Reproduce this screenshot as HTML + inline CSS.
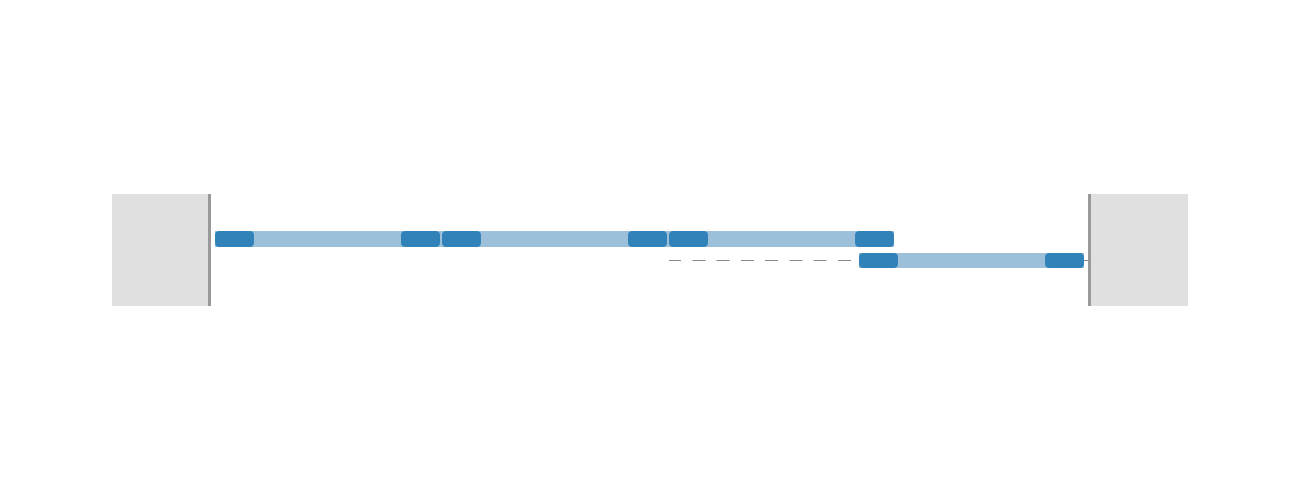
<!DOCTYPE html>
<html><head><style>
body{margin:0;width:1300px;height:500px;background:#fff;position:relative;overflow:hidden}
div{position:absolute}
.box{background:#e0e0e0;top:194px;height:112px}
.vl{background:#999;top:194px;height:112px;width:3px}
.lt{background:#9cc0da}
.dk{background:#3282ba;border-radius:4px}
</style></head><body>
<div class="box" style="left:112px;width:97px"></div>
<div class="vl" style="left:208px"></div>
<div class="box" style="left:1090px;width:98px"></div>
<div class="vl" style="left:1088px"></div>
<div class="lt" style="left:215px;top:231px;width:679px;height:16px"></div>
<div class="dk" style="left:215px;top:231px;width:39px;height:16px"></div>
<div class="dk" style="left:401px;top:231px;width:39px;height:16px"></div>
<div class="dk" style="left:442px;top:231px;width:39px;height:16px"></div>
<div class="dk" style="left:628px;top:231px;width:39px;height:16px"></div>
<div class="dk" style="left:669px;top:231px;width:39px;height:16px"></div>
<div class="dk" style="left:855px;top:231px;width:39px;height:16px"></div>
<div style="left:669px;top:260px;width:182px;height:0;border-top:1px dashed #888;border-image:repeating-linear-gradient(90deg,#888 0 13px,transparent 13px 24px) 1"></div>
<div style="left:1084px;top:260px;width:5px;height:1px;background:#888"></div>
<div class="lt" style="left:859px;top:253px;width:225px;height:15px"></div>
<div class="dk" style="left:859px;top:253px;width:39px;height:15px"></div>
<div class="dk" style="left:1045px;top:253px;width:39px;height:15px"></div>
</body></html>
